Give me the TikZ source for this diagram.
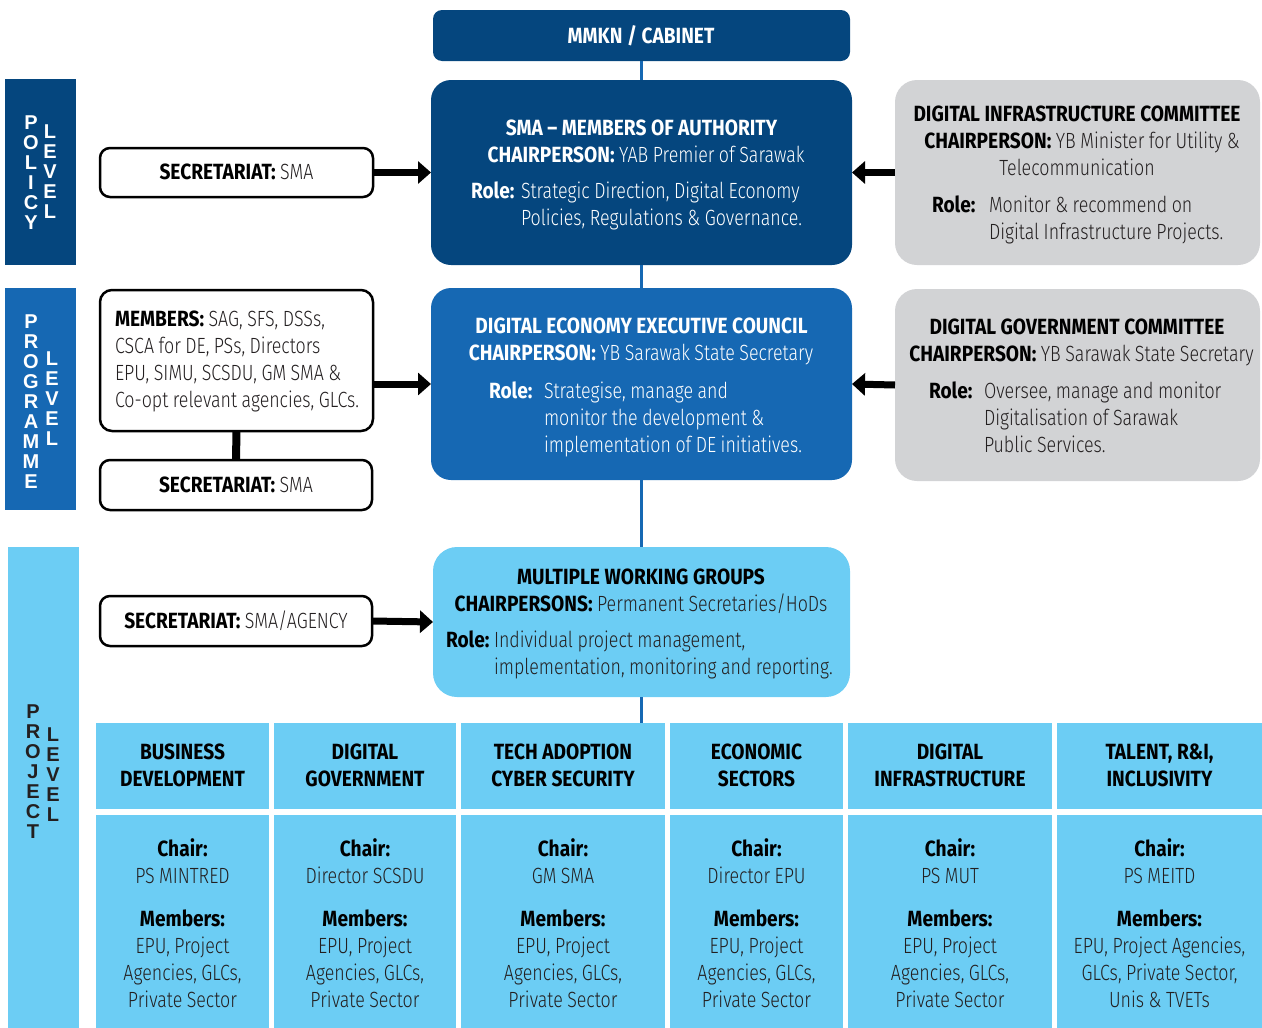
\documentclass[tikz,border=0pt]{standalone}
\usepackage{fontspec}
\setmainfont{Fira Sans}[UprightFont=* Light, BoldFont=* Bold, FakeStretch=0.81, WordSpace=0.9, BoldFeatures={FakeStretch=0.87, WordSpace=1}]
\newfontfamily\stackfont{Liberation Sans}[UprightFont=* Bold]
\usetikzlibrary{arrows.meta}

\definecolor{navy}{HTML}{05467E}
\definecolor{midblue}{HTML}{1668B3}
\definecolor{sky}{HTML}{6CCDF4}
\definecolor{panelgray}{HTML}{D2D3D5}
\definecolor{ink}{HTML}{231F20}

\tikzset{
  every node/.style={font=\fontsize{22}{27}\selectfont, inner sep=0pt, outer sep=0pt},
  bfnode/.style={font=\fontsize{22}{27}\selectfont\bfseries},
  bar/.style={rectangle, inner sep=0pt},
  panel/.style={rectangle, rounded corners=#1, inner sep=0pt},
  secbox/.style={rectangle, rounded corners=10pt, draw=black, line width=2.5pt, fill=white, inner sep=0pt},
  cell/.style={rectangle, fill=sky, inner sep=0pt},
  stack/.style={font=\stackfont\fontsize{20}{20}\selectfont, align=center},
  bigarrow/.style={line width=7pt, -{Triangle[length=13pt, width=22pt]}},
  spine/.style={midblue, line width=3pt},
}

\begin{document}
\begin{tikzpicture}[x=1pt, y=-1pt]
\path[use as bounding box] (0,0) rectangle (1262,1028);

% level bars
\node[bar, fill=navy, minimum width=71pt, minimum height=186pt] (polbar) at (40.5,172) {};
\node[bar, fill=midblue, minimum width=71pt, minimum height=222pt] (progbar) at (40.5,399) {};
\node[bar, fill=sky, minimum width=71pt, minimum height=481pt] (projbar) at (43.5,787.5) {};
\node[stack, text=white] (pol1) at (31,173) {P\\O\\L\\I\\C\\Y};
\node[stack, text=white] (pol2) at (50,172) {L\\E\\V\\E\\L};
\node[stack, text=white] (prog1) at (31,402) {P\\R\\O\\G\\R\\A\\M\\M\\E};
\node[stack, text=white] (prog2) at (52,399) {L\\E\\V\\E\\L};
\node[stack, text=ink] (proj1) at (33,772) {P\\R\\O\\J\\E\\C\\T};
\node[stack, text=ink] (proj2) at (53,775) {L\\E\\V\\E\\L};

% central chain
\node[panel=9pt, fill=navy, minimum width=417pt, minimum height=51pt] (mmkn) at (641.5,35.5) {};
\node[panel=20pt, fill=navy, minimum width=421pt, minimum height=185pt] (sma) at (641.5,172.5) {};
\node[panel=20pt, fill=midblue, minimum width=421pt, minimum height=192pt] (deec) at (641.5,384) {};
\node[panel=24pt, fill=sky, minimum width=417pt, minimum height=150pt] (mwg) at (641.5,622) {};

% side committees
\node[panel=22pt, fill=panelgray, minimum width=365pt, minimum height=185pt] (dic) at (1077.5,172.5) {};
\node[panel=22pt, fill=panelgray, minimum width=365pt, minimum height=192pt] (dgc) at (1077.5,385) {};

% secretariat boxes
\node[secbox, minimum width=273pt, minimum height=49pt] (secpol) at (236.5,172.5) {};
\node[secbox, rounded corners=12pt, minimum width=273pt, minimum height=141pt] (members) at (236.5,360.5) {};
\node[secbox, minimum width=272pt, minimum height=50pt] (secprog) at (236,485) {};
\node[secbox, minimum width=272pt, minimum height=50pt] (secproj) at (236,621) {};

% working group grid
\foreach \k/\xa/\xb/\ha/\hb/\ch/\ma/\mb/\mc in {
  1/96/269/BUSINESS/DEVELOPMENT/{PS MINTRED}/{EPU, Project}/{Agencies, GLCs,}/{Private Sector},
  2/274/456/DIGITAL/GOVERNMENT/{Director SCSDU}/{EPU, Project}/{Agencies, GLCs,}/{Private Sector},
  3/461/665/{TECH ADOPTION}/{CYBER SECURITY}/{GM SMA}/{EPU, Project}/{Agencies, GLCs,}/{Private Sector},
  4/670/843/ECONOMIC/SECTORS/{Director EPU}/{EPU, Project}/{Agencies, GLCs,}/{Private Sector},
  5/848/1052/DIGITAL/INFRASTRUCTURE/{PS MUT}/{EPU, Project}/{Agencies, GLCs,}/{Private Sector},
  6/1057/1262/{TALENT, R\&I,}/INCLUSIVITY/{PS MEITD}/{EPU, Project Agencies,}/{GLCs, Private Sector,}/{Unis \& TVETs}}
{
  \node[cell, minimum width={(\xb-\xa)*1pt}, minimum height=86pt] (h\k) at ({(\xa+\xb)/2},766) {};
  \node[cell, minimum width={(\xb-\xa)*1pt}, minimum height=213pt] (b\k) at ({(\xa+\xb)/2},921.5) {};
  \node[anchor=base, bfnode] (h\k a) at ({(\xa+\xb)/2},759) {\ha};
  \node[anchor=base, bfnode] (h\k b) at ({(\xa+\xb)/2},786) {\hb};
  \node[anchor=base, bfnode] (b\k c) at ({(\xa+\xb)/2},856) {Chair:};
  \node[anchor=base, text=ink] (b\k d) at ({(\xa+\xb)/2},883) {\ch};
  \node[anchor=base, bfnode] (b\k m) at ({(\xa+\xb)/2},926) {Members:};
  \node[anchor=base, text=ink] (b\k e) at ({(\xa+\xb)/2},953) {\ma};
  \node[anchor=base, text=ink] (b\k f) at ({(\xa+\xb)/2},980) {\mb};
  \node[anchor=base, text=ink] (b\k g) at ({(\xa+\xb)/2},1007) {\mc};
}

% spine through the chain
\draw[spine] (mmkn.south) -- (sma.north);
\draw[spine] (sma.south) -- (deec.north);
\draw[spine] (deec.south) -- (mwg.north);
\draw[spine] (mwg.south) -- (mwg.south |- h3.north);

% arrows
\draw[bigarrow] (secpol.east) -- (sma.west);
\draw[bigarrow] (members.east |- deec.west) -- (deec.west);
\draw[bigarrow] (secproj.east) -- (mwg.west);
\draw[bigarrow] (dic.west) -- (sma.east);
\draw[bigarrow] (dgc.west) -- (deec.east);
\draw[line width=8pt] (members.south) -- (secprog.north);

% texts: MMKN
\node[anchor=base, text=white, bfnode] (mmknt) at (641,43) {MMKN / CABINET};

% texts: SMA
\node[anchor=base, text=white, bfnode] (smat) at (641.5,135) {SMA – MEMBERS OF AUTHORITY};
\node[anchor=base, text=white] (smac) at (646,162) {\textbf{CHAIRPERSON:} YAB Premier of Sarawak};
\node[anchor=base west, text=white, bfnode] (smar) at (471,198) {Role:};
\node[anchor=base west, text=white] (smar1) at (521,198) {Strategic Direction, Digital Economy};
\node[anchor=base west, text=white] (smar2) at (521,225) {Policies, Regulations \& Governance.};

% texts: DEEC
\node[anchor=base, text=white, bfnode] (deect) at (641.5,333) {DIGITAL ECONOMY EXECUTIVE COUNCIL};
\node[anchor=base, text=white] (deecc) at (641,360) {\textbf{CHAIRPERSON:} YB Sarawak State Secretary};
\node[anchor=base west, text=white, bfnode] (deecr) at (489,398) {Role:};
\node[anchor=base west, text=white] (deecr1) at (544,398) {Strategise, manage and};
\node[anchor=base west, text=white] (deecr2) at (544,425) {monitor the development \&};
\node[anchor=base west, text=white] (deecr3) at (544,452) {implementation of DE initiatives.};

% texts: MWG
\node[anchor=base, bfnode] (mwgt) at (641,584) {MULTIPLE WORKING GROUPS};
\node[anchor=base, text=ink] (mwgc) at (641,611) {\textbf{\color{black}CHAIRPERSONS:} Permanent Secretaries/HoDs};
\node[anchor=base west, bfnode] (mwgr) at (446,647) {Role:};
\node[anchor=base west, text=ink] (mwgr1) at (494,647) {Individual project management,};
\node[anchor=base west, text=ink] (mwgr2) at (494,674) {implementation, monitoring and reporting.};

% texts: DIC
\node[anchor=base, bfnode] (dict) at (1077,121) {DIGITAL INFRASTRUCTURE COMMITTEE};
\node[anchor=base, text=ink] (dicc) at (1082,148) {\textbf{\color{black}CHAIRPERSON:} YB Minister for Utility \&};
\node[anchor=base, text=ink] (dicc2) at (1077,175) {Telecommunication};
\node[anchor=base west, bfnode] (dicr) at (932,212) {Role:};
\node[anchor=base west, text=ink] (dicr1) at (989,212) {Monitor \& recommend on};
\node[anchor=base west, text=ink] (dicr2) at (989,239) {Digital Infrastructure Projects.};

% texts: DGC
\node[anchor=base, bfnode] (dgct) at (1077,334) {DIGITAL GOVERNMENT COMMITTEE};
\node[anchor=base, text=ink] (dgcc) at (1081.5,361) {\textbf{\color{black}CHAIRPERSON:} YB Sarawak State Secretary};
\node[anchor=base west, bfnode] (dgcr) at (929,398) {Role:};
\node[anchor=base west, text=ink] (dgcr1) at (984,398) {Oversee, manage and monitor};
\node[anchor=base west, text=ink] (dgcr2) at (984,425) {Digitalisation of Sarawak};
\node[anchor=base west, text=ink] (dgcr3) at (984,452) {Public Services.};

% texts: secretariats and members
\node[anchor=base, text=ink] (secpolt) at (236.5,179) {\textbf{\color{black}SECRETARIAT:} SMA};
\node[anchor=base, text=ink] (secprogt) at (236,492) {\textbf{\color{black}SECRETARIAT:} SMA};
\node[anchor=base, text=ink] (secprojt) at (236,628) {\textbf{\color{black}SECRETARIAT:} SMA/AGENCY};
\node[anchor=base west, text=ink] (mem1) at (115,326) {\textbf{\color{black}MEMBERS:} SAG, SFS, DSSs,};
\node[anchor=base west, text=ink] (mem2) at (115,353) {CSCA for DE, PSs, Directors};
\node[anchor=base west, text=ink] (mem3) at (115,380) {EPU, SIMU, SCSDU, GM SMA \&};
\node[anchor=base west, text=ink] (mem4) at (115,407) {Co-opt relevant agencies, GLCs.};
\end{tikzpicture}
\end{document}
